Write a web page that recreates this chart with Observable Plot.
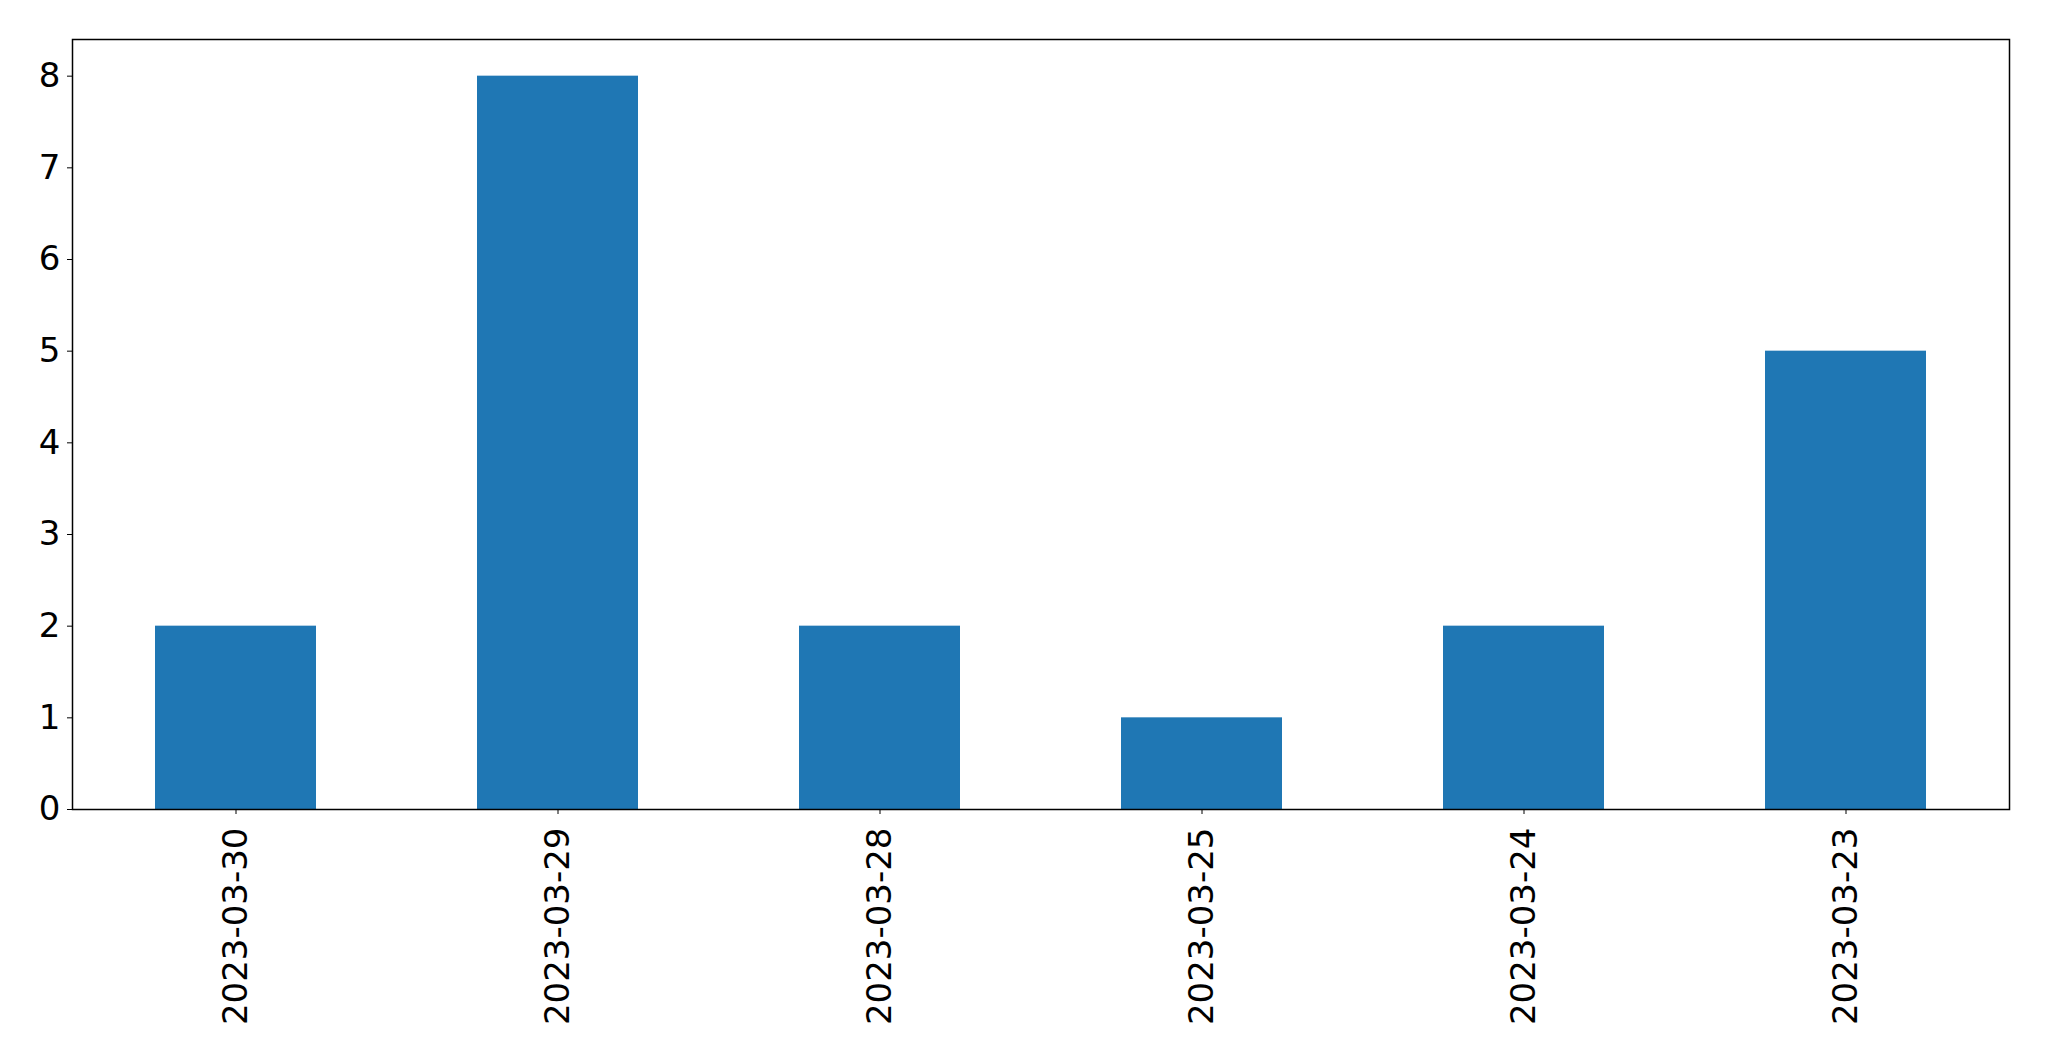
<!DOCTYPE html>
<html>
<head>
<meta charset="utf-8">
<script src="https://cdn.jsdelivr.net/npm/d3@7"></script>
<script src="https://cdn.jsdelivr.net/npm/@observablehq/plot@0.6"></script>
<style>
  html, body { margin: 0; padding: 0; background: #fff; }
</style>
</head>
<body>
<div id="chart"></div>
<script>
const dates = ["2023-03-30", "2023-03-29", "2023-03-28", "2023-03-25", "2023-03-24", "2023-03-23"];
const counts = [2, 8, 2, 1, 2, 5];
const yTicks = [0, 1, 2, 3, 4, 5, 6, 7, 8];

const data = dates.map((d, i) => ({date: d, count: counts[i]}));

const chart = Plot.plot({
  width: 2049,
  height: 1061,
  marginLeft: 72,
  marginRight: 40,
  marginTop: 39,
  marginBottom: 252,
  style: {fontFamily: "DejaVu Sans", fontSize: "34px", color: "#000", background: "#fff"},
  x: {domain: dates, paddingInner: 0.5, paddingOuter: 0.25, label: null},
  y: {domain: [0, 8.4], label: null},
  marks: [
    Plot.barY(data, {x: "date", y: "count", fill: "#1f77b4"}),
    Plot.axisY({ticks: yTicks, tickSize: 5, tickPadding: 7, fontSize: 34, label: null, tickFormat: d => String(d)}),
    Plot.axisX({tickSize: 5, tickPadding: 13, tickRotate: -90, fontSize: 34, label: null}),
    Plot.frame({stroke: "#000", strokeWidth: 1.5})
  ]
});
document.getElementById("chart").appendChild(chart);
</script>
</body>
</html>
